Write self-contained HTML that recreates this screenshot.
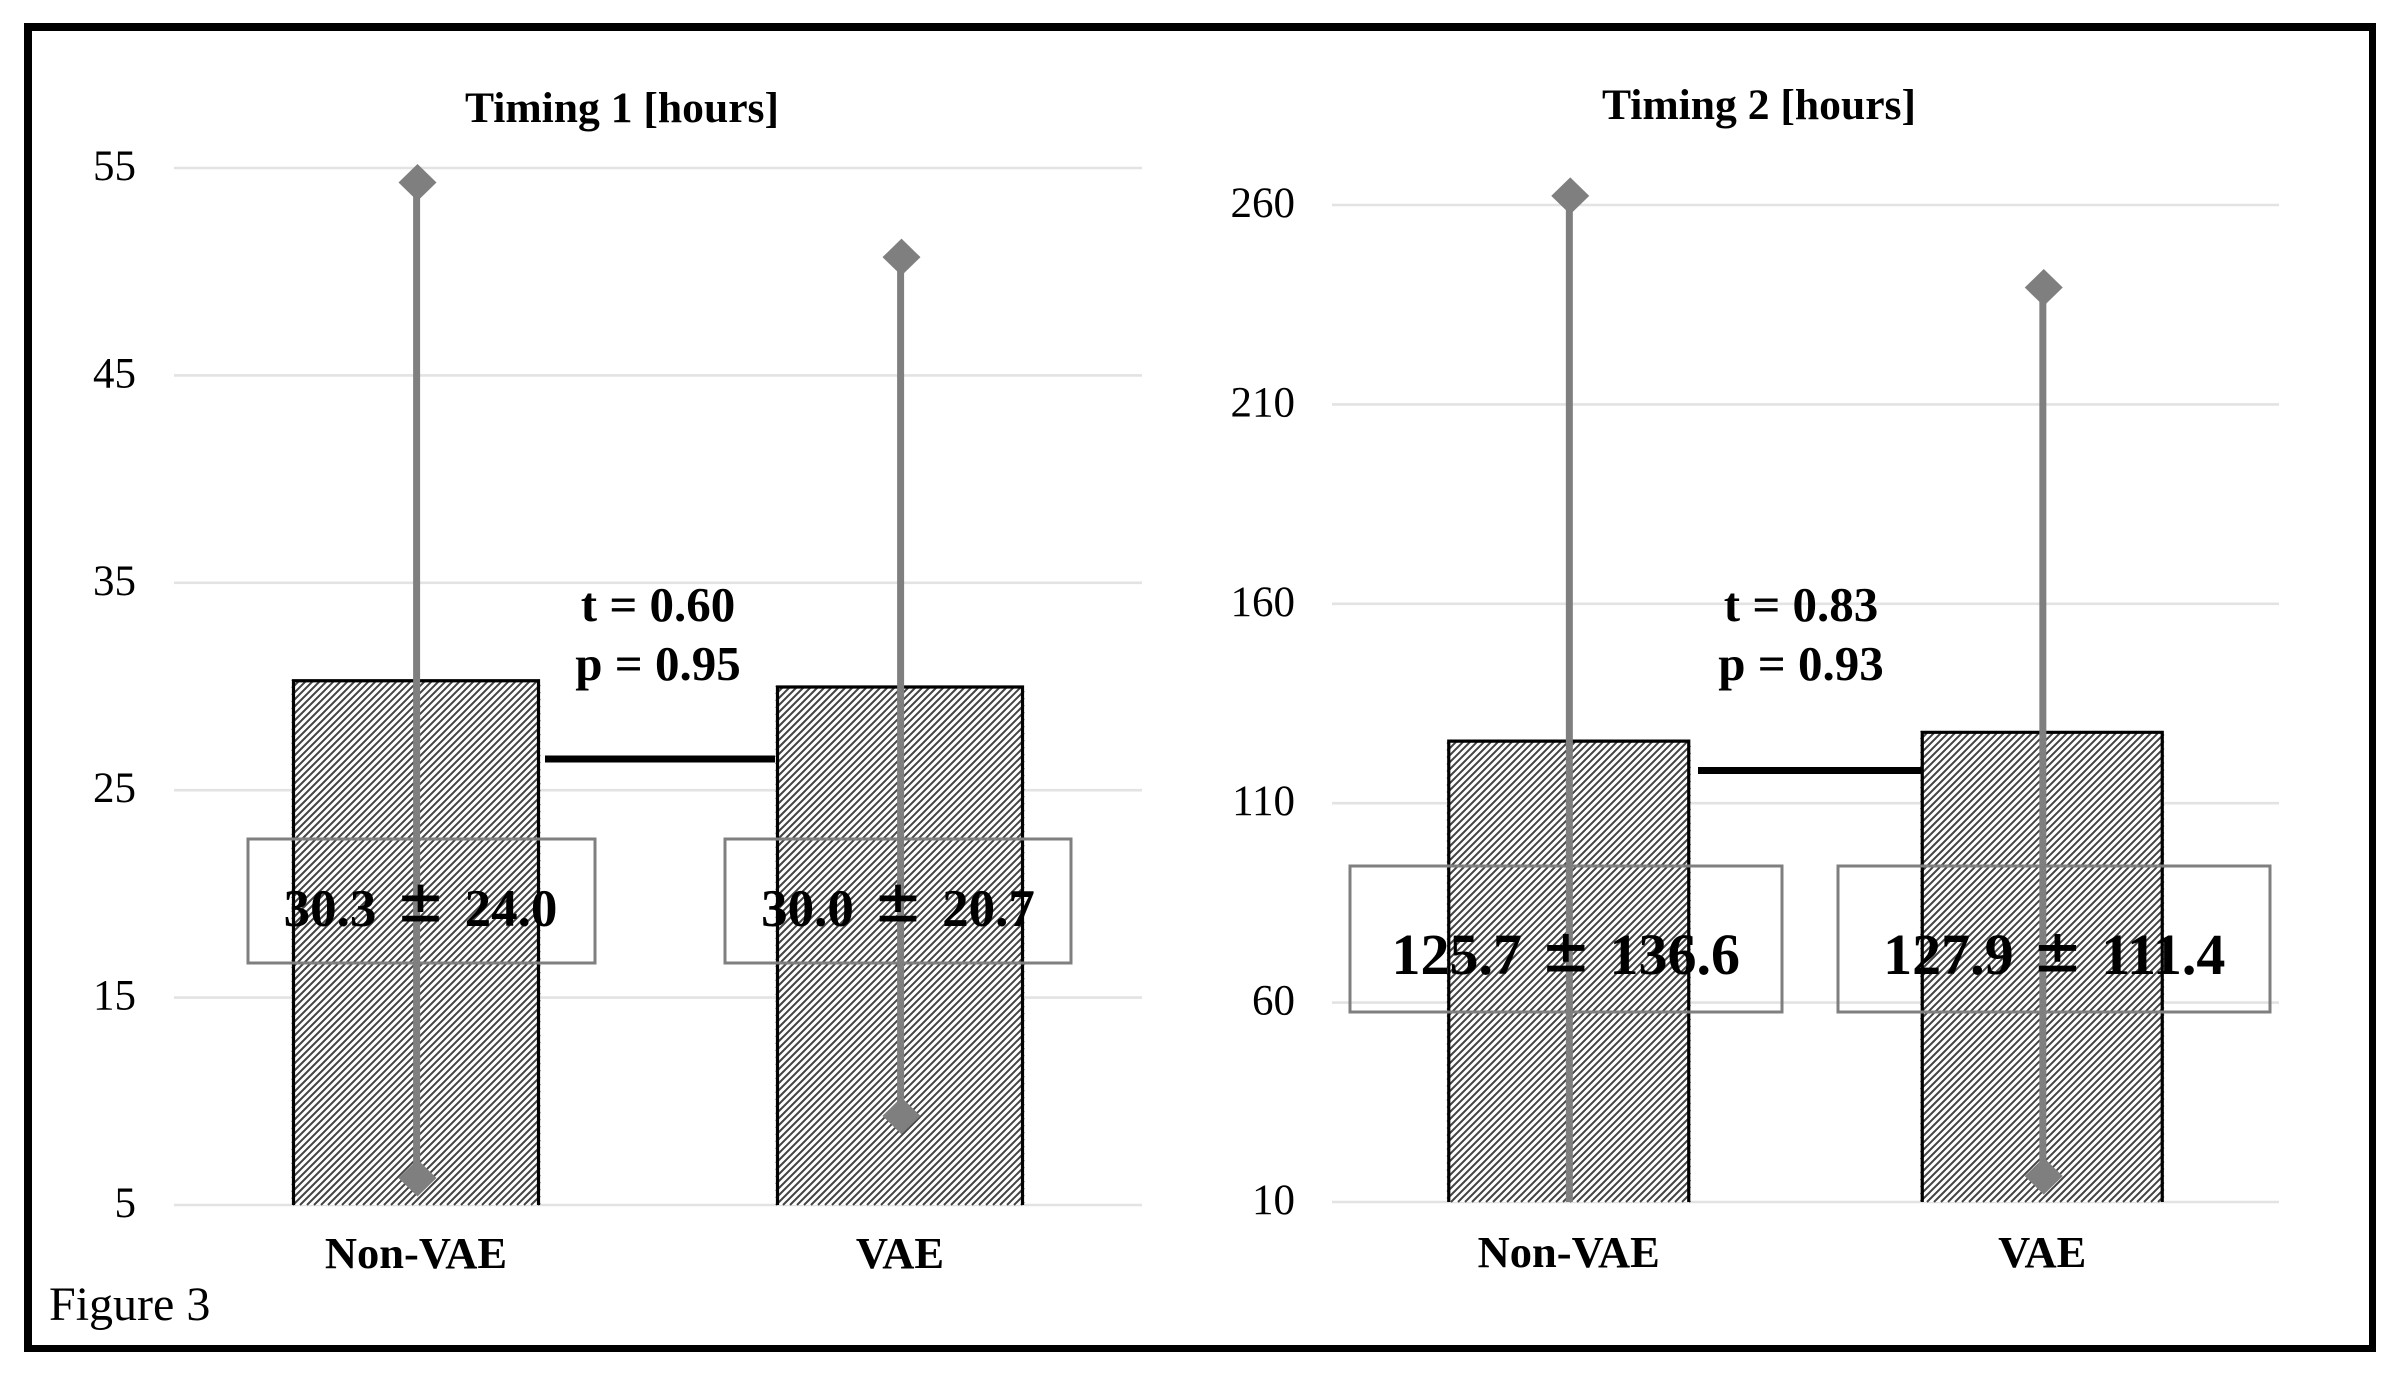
<!DOCTYPE html>
<html lang="en">
<head>
<meta charset="utf-8">
<title>Figure 3 - Timing 1 and Timing 2</title>
<style>
html,body{margin:0;padding:0;background:#fff;}
#stage{position:relative;width:2406px;height:1384px;overflow:hidden;}
svg{display:block;position:absolute;left:0;top:0;font-family:"Liberation Serif",serif;}
#base-layer{z-index:1;}
#top-layer{z-index:2;background:transparent;}
text{fill:#000;}
.b{font-weight:bold;}
</style>
</head>
<body>
<div id="stage">
<svg id="base-layer" xmlns="http://www.w3.org/2000/svg" width="2406" height="1384" viewBox="0 0 2406 1384">
  <rect x="0" y="0" width="2406" height="1384" fill="#fff"/>
  <g id="under-1"></g>
  <g id="under-2"></g>
</svg>
<svg id="top-layer" xmlns="http://www.w3.org/2000/svg" width="2406" height="1384" viewBox="0 0 2406 1384">
  <g>
    <rect x="24" y="23" width="2352" height="8" fill="#000"/>
    <rect x="24" y="1345" width="2352" height="7" fill="#000"/>
    <rect x="24" y="23" width="8" height="1329" fill="#000"/>
    <rect x="2369" y="23" width="7" height="1329" fill="#000"/>
  </g>

  <text class="b" x="622" y="122" font-size="43.6" text-anchor="middle">Timing 1 [hours]</text>
  <text class="b" x="1759" y="119" font-size="43.6" text-anchor="middle">Timing 2 [hours]</text>

  <g>
    <rect x="248" y="839" width="347" height="124" fill="none" stroke="#7f7f7f" stroke-width="3"/>
    <rect x="725" y="839" width="346" height="124" fill="none" stroke="#7f7f7f" stroke-width="3"/>
    <rect x="545" y="755.5" width="230" height="7" fill="#000"/>
    <text class="b" x="658" y="621" font-size="49" text-anchor="middle">t = 0.60</text>
    <text class="b" x="658" y="680" font-size="49" text-anchor="middle">p = 0.95</text>
  </g>
  <g>
    <rect x="1350" y="866" width="432" height="146" fill="none" stroke="#7f7f7f" stroke-width="3"/>
    <rect x="1838" y="866" width="432" height="146" fill="none" stroke="#7f7f7f" stroke-width="3"/>
    <rect x="1698" y="767" width="224" height="7" fill="#000"/>
    <text class="b" x="1801" y="621" font-size="49" text-anchor="middle">t = 0.83</text>
    <text class="b" x="1801" y="680" font-size="49" text-anchor="middle">p = 0.93</text>
  </g>

  <g id="over-1"></g>
  <g id="over-2"></g>

  <text x="49" y="1320" font-size="48">Figure 3</text>
</svg>
</div>

<script>
var categories = ["Non-VAE", "VAE"];
var timing1Means = [30.3, 30.0];
var timing1SDs = [24.0, 20.7];
var timing1Ticks = [5, 15, 25, 35, 45, 55];
var timing2Means = [125.7, 127.9];
var timing2SDs = [136.6, 111.4];
var timing2Ticks = [10, 60, 110, 160, 210, 260];

var NS = "http://www.w3.org/2000/svg";

function make(parent, tag, attrs) {
  var el = document.createElementNS(NS, tag);
  for (var k in attrs) { el.setAttribute(k, attrs[k]); }
  parent.appendChild(el);
  return el;
}

function hatchPath(x0, y0, x1, y1) {
  var step = 7;
  var d = "";
  for (var c = Math.ceil((x0 + y0) / step) * step; c < x1 + y1; c += step) {
    var ax = Math.max(x0, c - y1);
    var bx = Math.min(x1, c - y0);
    d += "M" + ax + " " + (c - ax) + "L" + bx + " " + (c - bx);
  }
  return d;
}

function drawChart(prefix, under, over, means, sds, ticks, frame) {
  var axisMin = ticks[0];
  var axisMax = ticks[ticks.length - 1];
  function yScale(v) {
    return frame.bottom - (v - axisMin) / (axisMax - axisMin) * (frame.bottom - frame.top);
  }
  var band = (frame.right - frame.left) / categories.length;
  function xScale(i) {
    return frame.left + band * (i + 0.5);
  }

  ticks.forEach(function (t) {
    var y = yScale(t);
    var grid = make(under, "line", {x1: frame.left, x2: frame.right, y1: y, y2: y, stroke: "#e3e3e3", "stroke-width": 2.6});
    
    
    var label = make(under, "text", {x: frame.tickX, y: y + 12, "font-size": 43, "text-anchor": "end"});
    label.textContent = String(t);
    
    
  });

  categories.forEach(function (c, i) {
    var cx = xScale(i);
    var top = yScale(means[i]);
    var x0 = cx - frame.barWidth / 2;
    var x1 = cx + frame.barWidth / 2;

    var bar = make(under, "g", {});
    
    
    make(bar, "rect", {x: x0, y: top, width: frame.barWidth, height: frame.bottom - top, fill: "#fff"});
    make(bar, "path", {d: hatchPath(x0, top, x1, frame.bottom), stroke: "#444", "stroke-width": 2, fill: "none"});
    make(bar, "path", {
      d: "M" + (x0 + 1.5) + " " + frame.bottom + "V" + (top + 0.5) + "H" + (x1 - 1.5) + "V" + frame.bottom,
      stroke: "#000", "stroke-width": 3.2, fill: "none"
    });

    var hi = means[i] + sds[i];
    var lo = means[i] - sds[i];
    var loClamped = Math.max(lo, axisMin);
    var whisker = make(over, "line", {
      x1: cx + 0.6, x2: cx + 0.6, y1: yScale(hi), y2: yScale(loClamped),
      stroke: "#7f7f7f", "stroke-width": 7
    });
    
    

    [hi, lo].forEach(function (v) {
      if (v < axisMin) { return; }
      var px = cx + 1.5;
      var py = yScale(v);
      var marker = make(over, "polygon", {
        points: px + "," + (py - 18.5) + " " + (px + 19) + "," + py + " " + px + "," + (py + 18.5) + " " + (px - 19) + "," + py,
        fill: "#7f7f7f"
      });
      
      
    });

    var cat = make(over, "text", {
      x: cx, y: frame.catY, "font-size": 44.5, "font-weight": "bold", "text-anchor": "middle"
    });
    cat.textContent = c;
    
    

    var stat = make(over, "text", {
      x: cx + frame.statOffsets[i], y: frame.statY,
      "font-size": frame.statSize, "font-weight": "bold", "text-anchor": "middle",
      "word-spacing": frame.statGap
    });
    
    
    var meanPart = make(stat, "tspan", {});
    meanPart.textContent = means[i].toFixed(1) + " ";
    var pm = make(stat, "tspan", {
      "font-size": frame.pmSize, dy: frame.pmRaise, "font-family": '"DejaVu Sans", sans-serif',
      "font-weight": "normal", stroke: "#000", "stroke-width": 1
    });
    pm.textContent = "\u00B1";
    var sdPart = make(stat, "tspan", {dy: -frame.pmRaise});
    sdPart.textContent = " " + sds[i].toFixed(1);
  });
}

drawChart("timing-1", document.getElementById("under-1"), document.getElementById("over-1"),
  timing1Means, timing1SDs, timing1Ticks,
  {left: 174, right: 1142, top: 168, bottom: 1205, tickX: 136, barWidth: 248, catY: 1268,
   statY: 926, statSize: 53, pmSize: 57, pmRaise: -5, statGap: 7, statOffsets: [4.5, -2]});

drawChart("timing-2", document.getElementById("under-2"), document.getElementById("over-2"),
  timing2Means, timing2SDs, timing2Ticks,
  {left: 1332, right: 2279, top: 205, bottom: 1202, tickX: 1295, barWidth: 243, catY: 1267,
   statY: 974, statSize: 58, pmSize: 58, pmRaise: -3, statGap: 5, statOffsets: [-3, 12]});
</script>
</body>
</html>
